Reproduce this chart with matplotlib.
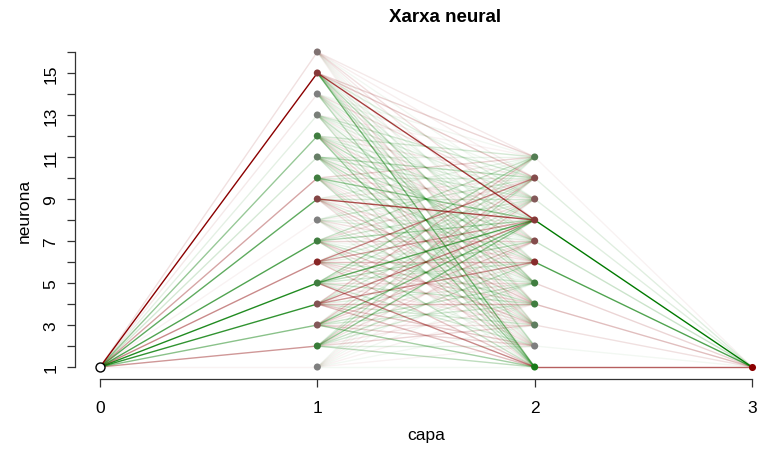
import numpy as np
import matplotlib
matplotlib.use("Agg")
import matplotlib.pyplot as plt
from matplotlib.colors import to_rgb

plt.rcParams['font.family'] = ['Liberation Sans', 'DejaVu Sans']

# Network structure: neurons per layer
layer_sizes = [1, 16, 11, 1]
layer_labels = ["0", "1", "2", "3"]

# Weights input -> hidden 1 (one per hidden-1 neuron, bottom to top)
w_in = [-0.08, -0.5, 0.55, 0.85, 0.9, -0.55, 0.75, -0.1, 0.7, -0.45,
        0.25, 0.5, 0.18, -0.15, -1.0, -0.2]

# Weights hidden 1 -> hidden 2 (rows: hidden-1 neuron 1..16, cols: hidden-2 neuron 1..11)
w_h1_1 = [0.08, -0.06, 0.10, -0.08, 0.06, -0.08, 0.08, -0.10, 0.06, -0.08, 0.10]
w_h1_2 = [0.35, 0.20, -0.25, -0.15, 0.25, 0.30, -0.20, 0.50, -0.25, 0.30, 0.20]
w_h1_3 = [0.45, -0.25, -0.20, 0.25, 0.30, -0.15, -0.30, 0.55, 0.20, -0.30, 0.15]
w_h1_4 = [-0.35, -0.30, 0.25, -0.35, 0.20, -0.50, -0.15, -0.55, 0.25, 0.20, -0.30]
w_h1_5 = [-0.55, 0.25, -0.15, 0.30, -0.20, 0.25, 0.35, 0.70, -0.20, 0.25, 0.40]
w_h1_6 = [-0.30, 0.15, -0.20, -0.25, 0.25, -0.35, 0.15, -0.45, 0.20, -0.55, 0.10]
w_h1_7 = [0.30, -0.20, -0.30, 0.30, 0.15, 0.10, -0.25, 0.40, 0.25, -0.20, 0.30]
w_h1_8 = [0.12, -0.15, 0.25, -0.15, 0.08, -0.20, 0.20, 0.15, -0.10, 0.25, 0.12]
w_h1_9 = [-0.20, 0.15, -0.20, -0.30, 0.20, -0.20, 0.10, -0.75, 0.25, -0.15, 0.15]
w_h1_10 = [0.30, -0.20, 0.20, -0.15, -0.15, 0.25, 0.15, 0.50, -0.15, 0.20, -0.25]
w_h1_11 = [0.25, 0.10, 0.25, -0.20, 0.35, -0.15, 0.30, -0.10, 0.25, 0.35, 0.15]
w_h1_12 = [0.45, 0.15, -0.25, 0.25, -0.15, 0.35, -0.20, 0.25, 0.20, -0.15, 0.25]
w_h1_13 = [0.30, -0.10, 0.15, 0.10, 0.30, 0.08, -0.15, 0.15, 0.20, 0.25, -0.10]
w_h1_14 = [0.35, 0.10, -0.10, 0.25, 0.15, -0.15, 0.20, 0.08, -0.20, 0.12, 0.08]
w_h1_15 = [0.60, 0.30, 0.25, -0.20, 0.35, 0.20, 0.15, -0.80, 0.20, -0.30, -0.25]
w_h1_16 = [-0.10, 0.05, -0.08, 0.08, -0.10, 0.05, -0.15, -0.20, 0.08, -0.12, -0.15]

# Weights hidden 2 -> output (hidden-2 neuron 1..11)
w_out = [-0.7, 0.06, -0.2, -0.35, -0.25, 0.75, 0.3, 1.0, 0.2, 0.2, -0.1]

# Biases (tint of the neuron markers)
b_h1 = [0.0, 0.55, -0.3, -0.35, 0.5, -0.7, 0.5, 0.0, -0.45, 0.5,
        0.2, 0.5, 0.05, 0.0, -0.55, -0.1]
b_h2 = [0.8, 0.0, 0.25, 0.5, 0.5, -0.65, -0.4, -0.55, -0.3, -0.4, 0.35]
b_out = [-1.0]

w_h1 = [w_h1_1, w_h1_2, w_h1_3, w_h1_4, w_h1_5, w_h1_6, w_h1_7, w_h1_8,
        w_h1_9, w_h1_10, w_h1_11, w_h1_12, w_h1_13, w_h1_14, w_h1_15, w_h1_16]

POS = np.array(to_rgb("#007a00"))
NEG = np.array(to_rgb("#8b0000"))
GREY = np.array(to_rgb("#7f7f7f"))


def edge_colour(w, wmax):
    a = min(abs(w) / wmax, 1.0) ** 1.3
    base = POS if w >= 0 else NEG
    return (*base, max(a, 0.05))


def node_colour(b):
    base = POS if b >= 0 else NEG
    t = min(abs(b), 1.0)
    return tuple(GREY * (1 - t) + base * t)


W = 758 / 100
H = 452 / 100
fig = plt.figure(figsize=(W, H), dpi=100)
ax = fig.add_axes([100 / 758, (452 - 368) / 452, (752 - 100) / 758, (368 - 53) / 452])
ax.set_xlim(0, 3)
ax.set_ylim(1, 16)

wmax = max(max(abs(v) for v in w_in),
           max(abs(v) for row in w_h1 for v in row),
           max(abs(v) for v in w_out))

# Edges: input -> hidden 1
for i, w in enumerate(w_in):
    ax.plot([0, 1], [1, i + 1], color=edge_colour(w, wmax), lw=1.0,
            solid_capstyle='butt', clip_on=False, zorder=1)

# Edges: hidden 1 -> hidden 2 (weakest first so strong lines sit on top)
pairs = [(abs(w_h1[i][j]), i, j) for i in range(16) for j in range(11)]
for _, i, j in sorted(pairs):
    ax.plot([1, 2], [i + 1, j + 1], color=edge_colour(w_h1[i][j], wmax), lw=1.0,
            solid_capstyle='butt', clip_on=False, zorder=1)

# Edges: hidden 2 -> output
for j, w in enumerate(w_out):
    ax.plot([2, 3], [j + 1, 1], color=edge_colour(w, wmax), lw=1.0,
            solid_capstyle='butt', clip_on=False, zorder=1)

# Neurons
ax.scatter([0], [1], s=42, facecolors='white', edgecolors='black',
           linewidths=1.0, zorder=3, clip_on=False)
ax.scatter(np.full(16, 1), np.arange(1, 17), s=26,
           c=[node_colour(b) for b in b_h1], zorder=3, clip_on=False, linewidths=0)
ax.scatter(np.full(11, 2), np.arange(1, 12), s=26,
           c=[node_colour(b) for b in b_h2], zorder=3, clip_on=False, linewidths=0)
ax.scatter([3], [1], s=26, c=[node_colour(b_out[0])], zorder=3,
           clip_on=False, linewidths=0)

# Axes in base-graphics style
for s in ['top', 'right']:
    ax.spines[s].set_visible(False)
ax.spines['left'].set_position(('outward', 18))
ax.spines['bottom'].set_position(('outward', 8.6))
ax.spines['left'].set_bounds(1, 16)
ax.spines['bottom'].set_bounds(0, 3)
for s in ['left', 'bottom']:
    ax.spines[s].set_linewidth(0.9)
    ax.spines[s].set_color('#333333')

ax.set_xticks(range(4))
ax.set_xticklabels(layer_labels)
ax.set_yticks(range(1, 17))
ax.set_yticklabels([str(v) if v % 2 == 1 else "" for v in range(1, 17)],
                   rotation=90, va='center')
ax.tick_params(axis='both', length=6, width=0.9, color='#333333',
               labelsize=12.5, pad=6)
ax.tick_params(axis='x', pad=9)

ax.set_xlabel("capa", fontsize=12.5, labelpad=9)
ax.set_ylabel("neurona", fontsize=12.5, labelpad=8)
fig.text(445 / 758, 1 - 18 / 452, "Xarxa neural", ha='center', va='center',
         fontsize=13.5, fontweight='bold')

fig.savefig("out.png", dpi=100)
